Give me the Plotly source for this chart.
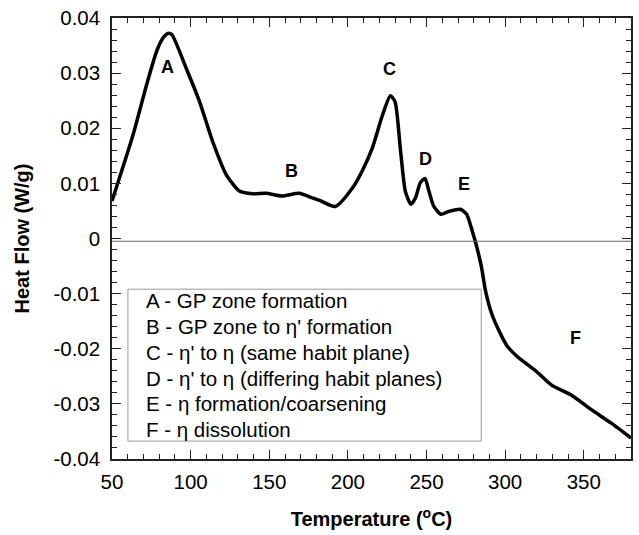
import plotly.graph_objects as go

# ---- data ----
temperature = [50, 63.5, 72, 78.3, 82, 85.5, 88, 97.3, 105.7, 114, 122.6, 131, 139.5, 148,
               158, 169, 177, 182, 192, 203, 209, 215.5, 222, 227, 230, 233.5, 236.5,
               240, 243, 246, 249, 251.5, 254.5, 259, 264, 271.5, 275.5, 279, 282, 285,
               287.5, 291.5, 296, 301, 308, 319, 329.5, 342, 355, 367.5, 380]
heat_flow = [0.0068, 0.0189, 0.0279, 0.0339, 0.0362, 0.0372, 0.0370, 0.0308, 0.0248, 0.0176,
             0.0116, 0.0086, 0.0081, 0.0082, 0.0077, 0.0082, 0.0074, 0.0069, 0.0058, 0.0092,
             0.0122, 0.0164, 0.0224, 0.0259, 0.0248, 0.0158, 0.0086, 0.0062, 0.0074, 0.0101,
             0.0109, 0.0086, 0.0059, 0.0044, 0.0049, 0.0053, 0.0044, 0.0014, -0.0016, -0.0053,
             -0.0095, -0.0137, -0.0167, -0.0194, -0.0215, -0.0239, -0.0266, -0.0284, -0.0311,
             -0.0335, -0.0362]

baseline = -0.0005

peak_labels = ["A", "B", "C", "D", "E", "F"]
peak_x = [85.5, 164, 226.7, 249.5, 274, 345]
peak_y = [0.0312, 0.0122, 0.0308, 0.0145, 0.0098, -0.0181]

legend_lines = [
    "A - GP zone formation",
    "B - GP zone to η' formation",
    "C - η' to η (same habit plane)",
    "D - η' to η (differing habit planes)",
    "E - η formation/coarsening",
    "F - η dissolution",
]

x_tickvals = [50, 100, 150, 200, 250, 300, 350]
x_ticktext = ["50", "100", "150", "200", "250", "300", "350"]
y_tickvals = [0.04, 0.03, 0.02, 0.01, 0, -0.01, -0.02, -0.03, -0.04]
y_ticktext = ["0.04", "0.03", "0.02", "0.01", "0", "-0.01", "-0.02", "-0.03", "-0.04"]

FONT = "Arial, 'Liberation Sans', sans-serif"

fig = go.Figure()
fig.add_trace(go.Scatter(x=temperature, y=heat_flow, mode="lines",
                         line=dict(color="black", width=3.5, shape="spline", smoothing=0.6),
                         hoverinfo="skip", showlegend=False))

# zero reference line
fig.add_shape(type="line", xref="paper", x0=0, x1=1, yref="y", y0=baseline, y1=baseline,
              line=dict(color="#666666", width=1))

for lab, px, py in zip(peak_labels, peak_x, peak_y):
    fig.add_annotation(x=px, y=py, text="<b>%s</b>" % lab, showarrow=False,
                       font=dict(family=FONT, size=18, color="black"))

# legend box
fig.add_shape(type="rect", xref="paper", yref="paper", x0=0.0307, x1=0.7115, y0=0.0406, y1=0.385,
              line=dict(color="#9a9a9a", width=1), fillcolor="white")
line_ys = [0.359, 0.300, 0.2415, 0.183, 0.126, 0.0677]
for txt, ly in zip(legend_lines, line_ys):
    fig.add_annotation(xref="paper", yref="paper", x=0.0614, y=ly, text=txt, showarrow=False,
                       xanchor="left", yanchor="middle",
                       font=dict(family=FONT, size=20.5, color="black"))

axis_common = dict(showline=True, linecolor="#222222", linewidth=1.5, mirror="allticks",
                   ticks="inside", ticklen=9, tickwidth=1.2, tickcolor="#222222",
                   showgrid=False, zeroline=False,
                   tickfont=dict(family=FONT, size=20.5, color="black"))

fig.update_xaxes(range=[50, 380], tickvals=x_tickvals, ticktext=x_ticktext,
                 ticklabelstandoff=4,
                 minor=dict(ticks="inside", ticklen=5, dtick=10, tick0=50, tickcolor="#222222",
                            tickwidth=1.2, showgrid=False),
                 title=dict(text="<b>Temperature (<sup>o</sup>C)</b>", standoff=20,
                            font=dict(family=FONT, size=20, color="black")),
                 **axis_common)
fig.update_yaxes(range=[-0.04, 0.04], tickvals=y_tickvals, ticktext=y_ticktext,
                 ticklabelstandoff=6,
                 minor=dict(ticks="inside", ticklen=5, dtick=0.002, tick0=0, tickcolor="#222222",
                            tickwidth=1.2, showgrid=False),
                 title=dict(text="<b>Heat Flow (W/g)</b>", standoff=18,
                            font=dict(family=FONT, size=20, color="black")),
                 **axis_common)

fig.update_layout(width=639, height=535, margin=dict(l=112, r=6, t=16, b=76),
                  plot_bgcolor="white", paper_bgcolor="white", showlegend=False)

fig.write_html("out.html")
